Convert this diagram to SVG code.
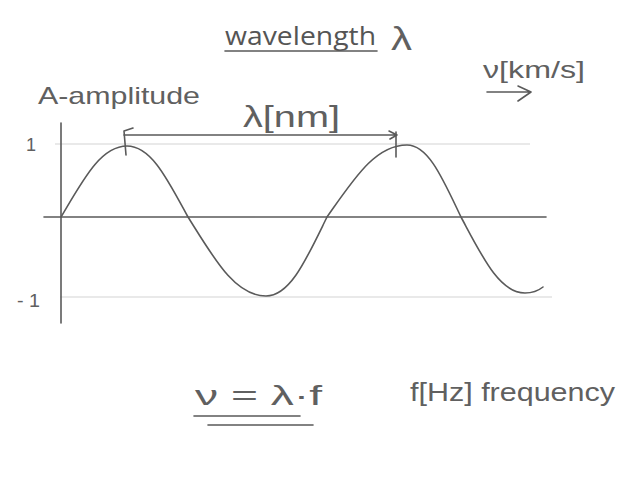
<svg xmlns="http://www.w3.org/2000/svg" width="640" height="480" viewBox="0 0 640 480">
<style>
.ink{fill:none;stroke:#5a5a5a;stroke-width:1.6;stroke-linecap:round;stroke-linejoin:round}
.grid{fill:none;stroke:#d4d4d4;stroke-width:1.2}
.hand{font-family:"Liberation Sans","DejaVu Sans",sans-serif;fill:#606060}
.title{font-family:"Open Sans","DejaVu Sans",sans-serif;fill:#555;font-size:26px}
</style>
<rect width="640" height="480" fill="#fff"/>
<g id="title">
<text class="title" x="225" y="45" textLength="151" lengthAdjust="spacingAndGlyphs">wavelength</text>
<line class="ink" x1="225" y1="51" x2="377" y2="51" stroke-width="1.8"/>
<text class="hand" x="391" y="50" font-size="34" textLength="21" lengthAdjust="spacingAndGlyphs">λ</text>
</g>
<g id="velocity">
<text class="hand" x="483" y="78" font-size="24" textLength="102" lengthAdjust="spacingAndGlyphs">ν[km/s]</text>
<path class="ink" d="M487,92 L531,92 M518,86 L531,92 L518,101"/>
</g>
<g id="axis-labels">
<text class="hand" x="38" y="104" font-size="24" textLength="162" lengthAdjust="spacingAndGlyphs">A-amplitude</text>
<text class="hand" x="26" y="151" font-size="18">1</text>
<text class="hand" x="17" y="307" font-size="19" textLength="23" lengthAdjust="spacingAndGlyphs">- 1</text>
</g>
<g id="gridlines">
<line class="grid" x1="55" y1="144" x2="530" y2="144"/>
<line class="grid" x1="60" y1="297" x2="552" y2="297"/>
</g>
<g id="axes">
<line class="ink" x1="44" y1="217" x2="546" y2="217"/>
<line class="ink" x1="61" y1="123" x2="61" y2="323"/>
</g>
<g id="wave">
<path class="ink" d="M61,217 C83,180 100.6,146 127,146 C151.4,146 167.7,179.8 188,217 C214,258.4 234.8,296 266,296 C290.4,296 306.7,258.4 327,217 C353.7,179.3 375,145 407,145 C428.6,145 443,179.3 461,217 C482.3,256.8 499.4,293 525,293 C533,293 538,291 543,287"/>
</g>
<g id="connectors">
<g id="wavelength-arrow">
<path class="ink" d="M124,135 L397,135 M389,131 L397,135 L390,139"/>
<path class="ink" d="M133,128 L124,131 L126,155"/>
<path class="ink" d="M396,132 L396,157"/>
</g>
</g>
<g id="wavelength-label">
<text class="hand" x="243" y="127" font-size="30" textLength="97" lengthAdjust="spacingAndGlyphs">λ[nm]</text>
</g>
<g id="formula">
<text class="hand" x="195" y="405" font-size="28" textLength="127" lengthAdjust="spacingAndGlyphs">ν = λ·f</text>
<line class="ink" x1="194" y1="416" x2="300" y2="416"/>
<line class="ink" x1="208" y1="425" x2="313" y2="425"/>
</g>
<g id="frequency">
<text class="hand" x="410" y="401" font-size="26" textLength="205" lengthAdjust="spacingAndGlyphs">f[Hz] frequency</text>
</g>
</svg>
